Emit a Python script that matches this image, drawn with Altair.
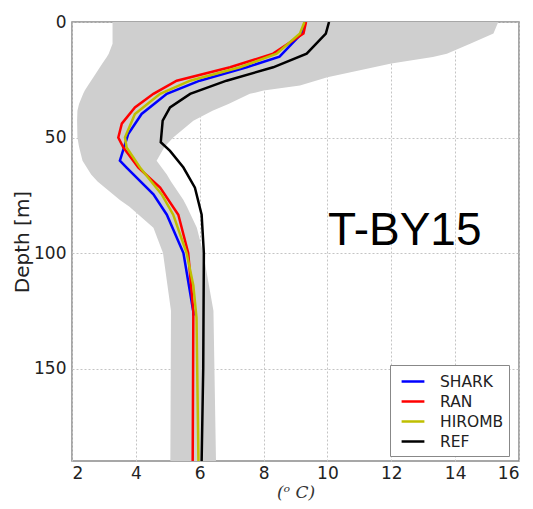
import altair as alt
import pandas as pd

# ---- data ----
series_names = ["SHARK", "RAN", "HIROMB", "REF"]
series_colors = ["#0000ff", "#ff0000", "#bfbf00", "#000000"]

shark_depth = [0, 5, 15, 19.6, 25.4, 31.1, 39.8, 48.5, 60, 63, 74.6, 83.4, 100, 125.4, 127]
shark_temp = [9.3, 9.19, 8.5, 7.47, 6.0, 4.97, 4.18, 3.76, 3.5, 3.71, 4.55, 4.97, 5.49, 5.8, 5.8]

ran_depth = [0, 5, 13.7, 19.6, 25.4, 31.1, 37, 44, 50, 54.3, 63, 71.7, 83.4, 100, 125.4, 190]
ran_temp = [9.33, 9.25, 8.3, 6.95, 5.28, 4.55, 3.97, 3.56, 3.45, 3.61, 4.08, 4.76, 5.33, 5.64, 5.8, 5.78]

hiromb_depth = [0, 5, 13.7, 19.6, 25.4, 31.1, 39.8, 50, 54.3, 63, 74.6, 83.4, 100, 114, 128, 190]
hiromb_temp = [9.28, 9.14, 8.41, 7.26, 5.7, 4.76, 3.97, 3.66, 3.71, 4.13, 4.81, 5.17, 5.59, 5.8, 5.9, 5.96]

ref_depth = [0, 5, 13.7, 19.6, 25.4, 31.1, 37, 42.7, 52, 55.8, 63, 71.7, 83.4, 100, 150, 190]
ref_temp = [10.05, 9.95, 9.35, 8.3, 6.84, 5.7, 5.07, 4.84, 4.78, 5.07, 5.49, 5.85, 6.06, 6.13, 6.11, 6.06]

band_depth = [0, 5, 9.4, 13.7, 15.2, 18, 23.9, 27.5, 29.7, 31.1, 35.5, 38.4, 42.7, 50, 54, 60, 66, 69, 77, 80, 89, 100, 125, 190]
band_low = [3.27, 3.27, 3.27, 3.15, 3.09, 2.95, 2.67, 2.5, 2.4, 2.35, 2.22, 2.17, 2.16, 2.17, 2.22, 2.33, 2.6, 2.8, 3.5, 3.8, 4.55, 4.85, 5.1, 5.08]
band_high = [15.35, 15.2, 14.47, 13.74, 13.3, 12.0, 10.0, 9.14, 8.0, 7.57, 6.9, 6.4, 5.8, 5.17, 4.9, 4.65, 4.97, 5.1, 5.49, 5.6, 5.91, 6.11, 6.43, 6.51]

label_text = ["T-BY15"]
label_x = [10.02]
label_depth = [96.3]

x_ticks = [2, 4, 6, 8, 10, 12, 14, 16]
y_ticks = [0, 50, 100, 150]

# ---- build tables ----
rows = []
for name, ds, ts in [("SHARK", shark_depth, shark_temp), ("RAN", ran_depth, ran_temp),
                     ("HIROMB", hiromb_depth, hiromb_temp), ("REF", ref_depth, ref_temp)]:
    for d, t in zip(ds, ts):
        rows.append({"series": name, "depth": d, "temp": t})
lines_df = pd.DataFrame(rows)
band_df = pd.DataFrame({"depth": band_depth, "lo": band_low, "hi": band_high})
label_df = pd.DataFrame({"text": label_text, "x": label_x, "depth": label_depth})

xscale = alt.Scale(domain=[2, 16], nice=False, zero=False)
yscale = alt.Scale(domain=[0, 190], reverse=True, nice=False, zero=False)

xaxis = alt.Axis(values=x_ticks, title="(ᵒ C)", grid=True, format="d", ticks=False, labelPadding=4,
                 titleFont="DejaVu Serif", titleFontStyle="italic", titleFontWeight="normal",
                 titleFontSize=17, titleColor="#333", titlePadding=3)
yaxis = alt.Axis(values=y_ticks, title="Depth [m]", grid=True, format="d", ticks=False, labelPadding=6,
                 titleFont="DejaVu Sans", titleFontWeight="normal", titleFontSize=20,
                 titleColor="#222", titlePadding=1)

band = alt.Chart(band_df).mark_area(orient="horizontal", color="#cfcfcf", opacity=1, clip=True).encode(
    y=alt.Y("depth:Q", scale=yscale, axis=yaxis),
    x=alt.X("lo:Q", scale=xscale, axis=xaxis, stack=None),
    x2="hi:Q",
)

color = alt.Color("series:N", scale=alt.Scale(domain=series_names, range=series_colors),
                  legend=alt.Legend(title=None, orient="none", legendX=318, legendY=343,
                                    symbolType="M-1.2,0H1.2", symbolSize=361, symbolStrokeWidth=2.5,
                                    labelFont="DejaVu Sans", labelFontSize=15.5, labelColor="#222",
                                    labelOffset=16, rowPadding=0, padding=5.5, symbolOffset=6.5,
                                    strokeColor="#888", fillColor="white"))

layers = [band]
for name in series_names:
    layers.append(
        alt.Chart(lines_df).transform_filter(alt.datum.series == name).mark_line(strokeWidth=2.5, clip=True).encode(
            x=alt.X("temp:Q", scale=xscale),
            y=alt.Y("depth:Q", scale=yscale),
            color=color,
            order="depth:Q",
        )
    )

label = alt.Chart(label_df).mark_text(align="left", baseline="alphabetic", font="Liberation Sans",
                                      fontSize=46, color="black").encode(
    x=alt.X("x:Q", scale=xscale),
    y=alt.Y("depth:Q", scale=yscale),
    text="text:N",
)
layers.append(label)

chart = alt.layer(*layers).properties(
    width=447, height=439,
    background="white",
    autosize=alt.AutoSizeParams(type="none"),
    padding={"left": 72, "top": 22, "right": 14, "bottom": 48},
).configure_view(stroke="#8a8a8a", strokeWidth=1.5).configure_axis(
    domain=False, labelFont="DejaVu Sans", labelFontSize=17,
    labelColor="#222", gridColor="#c4c4c4", gridDash=[2, 2], gridWidth=1,
)

chart.save("out.html", embed_options={"renderer": "svg", "actions": False})
